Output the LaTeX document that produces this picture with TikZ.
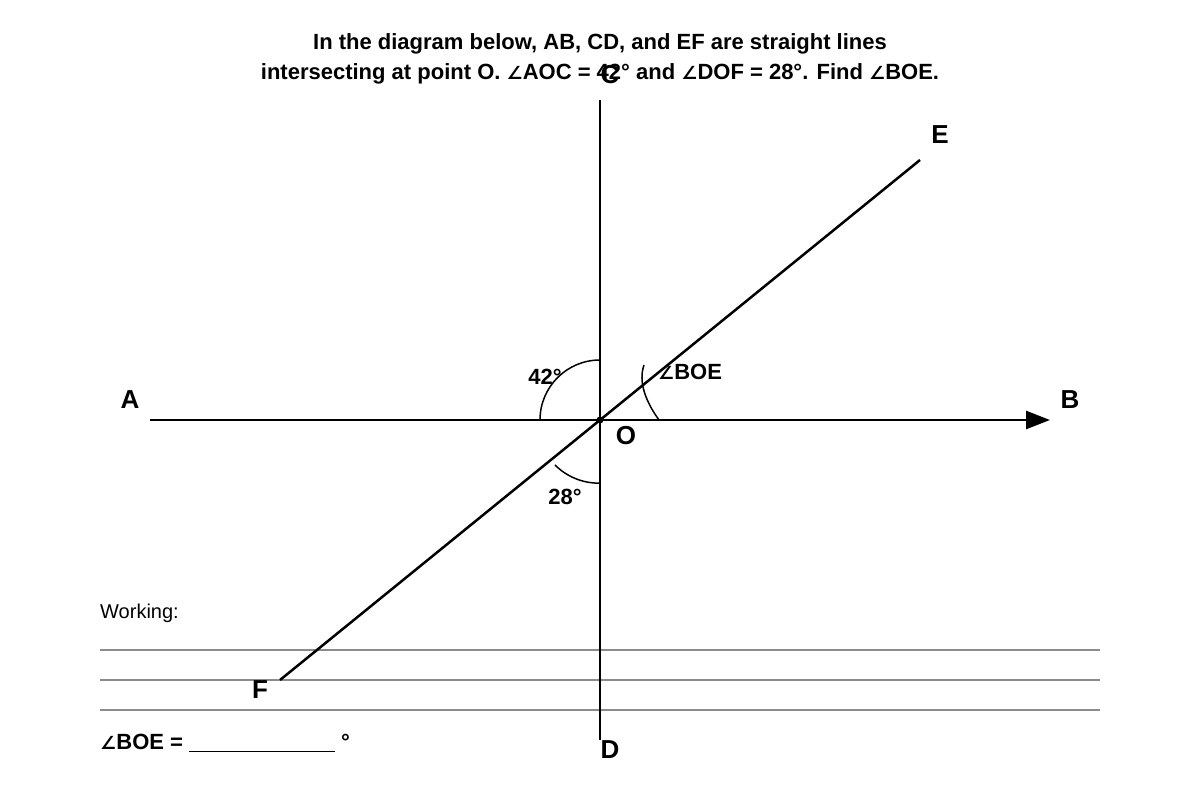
\documentclass[tikz,border=0pt]{standalone}
\usepackage{fontspec}
\setmainfont{Liberation Sans}
\newfontfamily\dvs{DejaVu Sans}
\usetikzlibrary{arrows.meta}
\newcommand{\angsym}{{\dvs\scalebox{0.82}{\char"2220}}}
\begin{document}
\begin{tikzpicture}[x=1pt,y=-1pt,
  ln/.style={line width=2.5pt,black},
  thin arc/.style={line width=1.5pt,black},
  rule/.style={line width=2pt,gray!90},
  pt/.style={font=\fontsize{26}{30}\selectfont\bfseries,inner sep=0pt},
  lab/.style={font=\fontsize{22}{26}\selectfont\bfseries,inner sep=0pt},
  ttl/.style={font=\fontsize{22}{30}\selectfont\bfseries,inner sep=0pt,align=center}]
\useasboundingbox (0,0) rectangle (1200,800);
\fill[white] (0,0) rectangle (1200,800);
% gray working rules
\coordinate (r1a) at (100,650); \coordinate (r1b) at (1100,650);
\coordinate (r2a) at (100,680); \coordinate (r2b) at (1100,680);
\coordinate (r3a) at (100,710); \coordinate (r3b) at (1100,710);
\draw[rule] (r1a) -- (r1b);
\draw[rule] (r2a) -- (r2b);
\draw[rule] (r3a) -- (r3b);
% points
\coordinate (O) at (600,420);
\coordinate (Ap) at (150,420);
\coordinate (Bp) at (1050,420);
\coordinate (Cp) at (600,100);
\coordinate (Dp) at (600,740);
\coordinate (Ep) at (920,160);
\coordinate (Fp) at (280,680);
\draw[ln,-{Triangle[length=24pt,width=18pt]}] (Ap) -- (Bp);
\draw[ln] (Cp) -- (Dp);
\draw[ln] (Fp) -- (Ep);
\fill (O) circle (3.5);
% arcs (y axis points down, so angles run clockwise on screen)
\draw[thin arc] (540,420) arc[start angle=180,end angle=270,radius=60];
\draw[thin arc] (659,420) .. controls (646,402) and (638,382) .. (644,365);
\draw[thin arc] (555,465) arc[start angle=135,end angle=90,radius=62];
% labels
\node[pt] (A) at (130,400) {A};
\node[pt] (B) at (1070,400) {B};
\node[pt] (C) at (610,75) {C};
\node[pt] (D) at (610,750) {D};
\node[pt] (E) at (940,135) {E};
\node[pt] (F) at (260,690) {F};
\node[pt] (Ol) at (626,436) {O};
\node[lab] (a42) at (545,377) {42°};
\node[lab] (a28) at (565,497) {28°};
\node[lab] (aboe) at (690,372) {\angsym BOE};
% title
\node[ttl] (t1) at (600,44) {In the diagram below, AB, CD, and EF are straight lines};
\node[ttl] (t2) at (600,74) {intersecting at point O. \angsym AOC = 42° and \angsym DOF = 28°. Find \angsym BOE.};
% working
\node[font=\fontsize{20}{24}\selectfont,inner sep=0pt,anchor=west] (w) at (100,613) {Working:};
\node[lab,anchor=west] (ans) at (100,743) {\angsym BOE = \rule[-2pt]{146pt}{1pt} °};
\end{tikzpicture}
\end{document}
